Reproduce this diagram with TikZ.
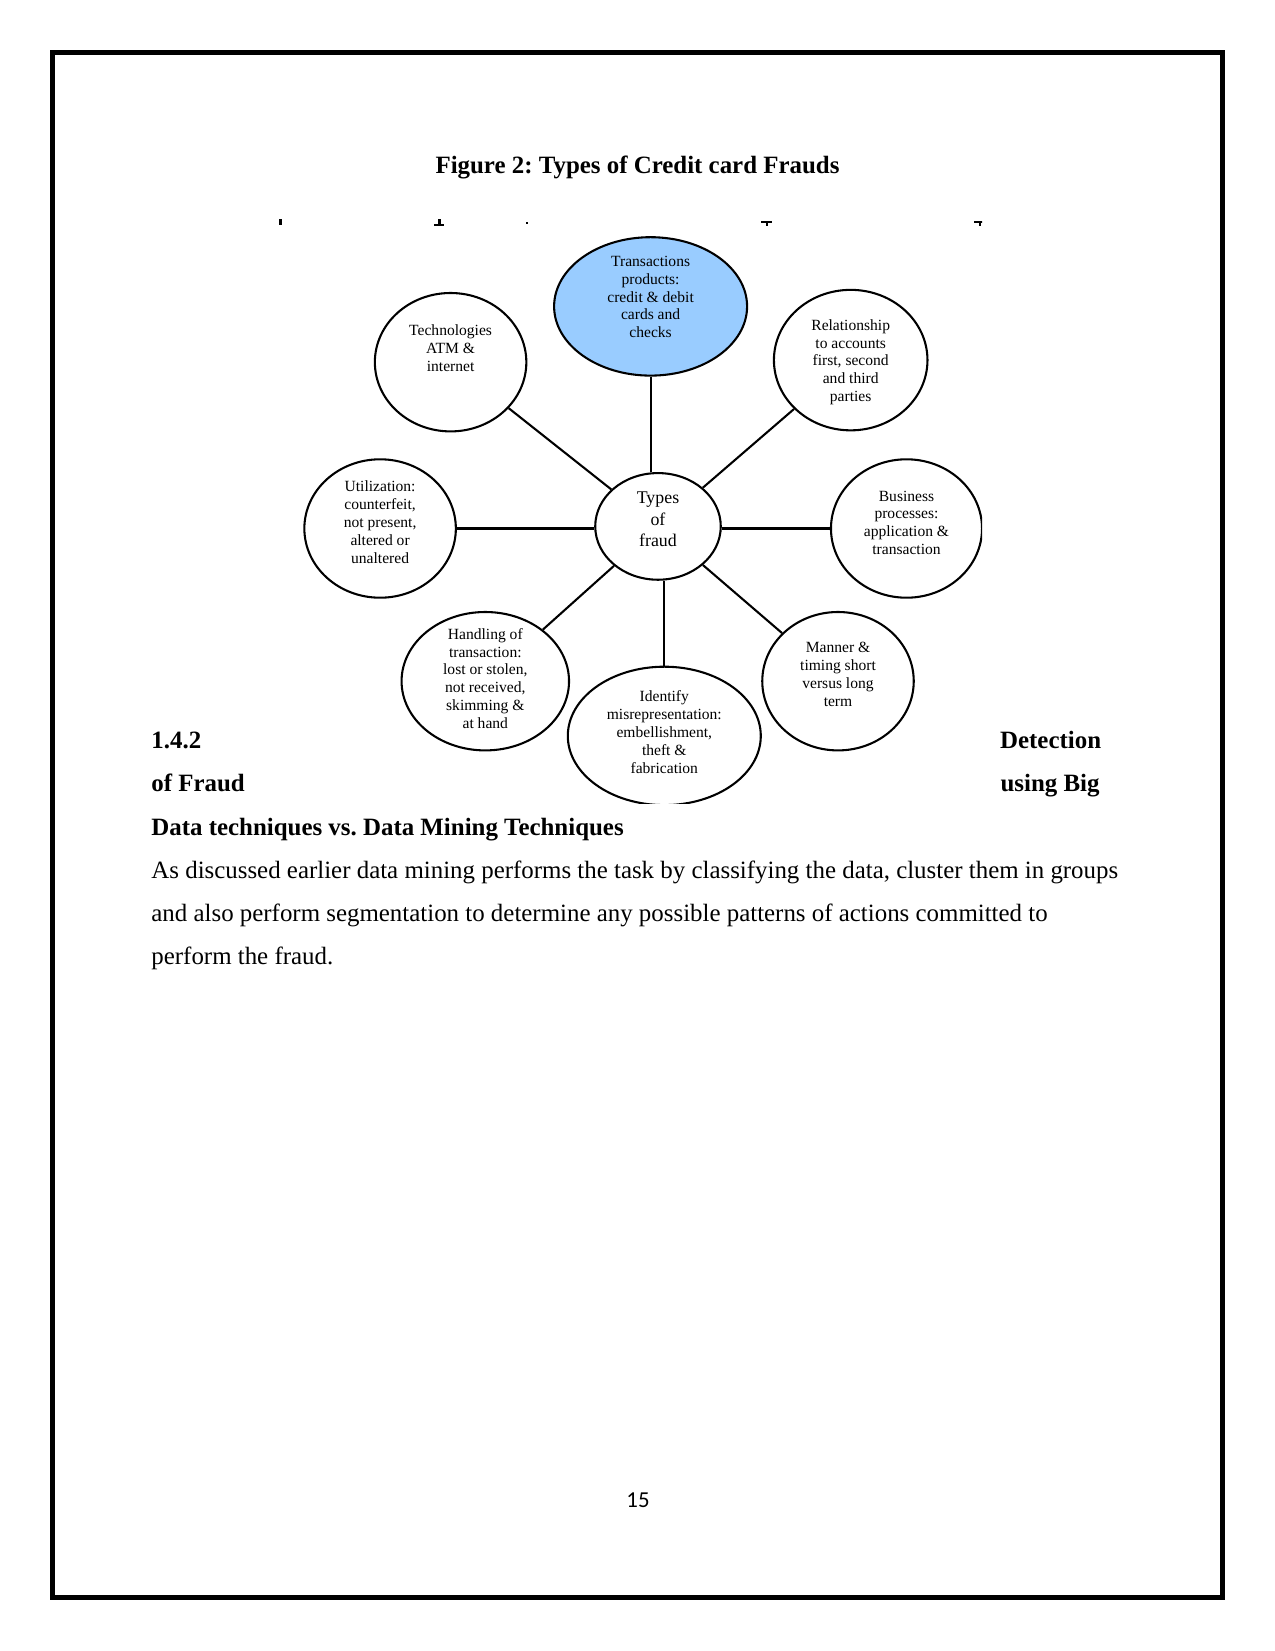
\documentclass[tikz,border=0pt]{standalone}
\usepackage{fontspec}
\setmainfont{Liberation Serif}
\newfontfamily\pagenumfont{Carlito}
\frenchspacing
\usetikzlibrary{shapes.geometric}
\definecolor{bubbleblue}{RGB}{153,204,255}
\tikzset{
  bubble/.style={draw, ellipse, line width=1pt, inner sep=0pt, minimum height=66.7pt},
  bubtext/.style={align=center, inner sep=0pt, font=\fontsize{7.5}{8.6}\selectfont},
  link/.style={line width=1pt},
  para/.style={anchor=base west, inner sep=0pt, font=\fontsize{12}{14}\selectfont},
  head/.style={para, font=\fontsize{12}{14}\selectfont\bfseries},
}

\begin{document}
\begin{tikzpicture}[x=0.016933cm, y=-0.016933cm]
\useasboundingbox (0,0) rectangle (1275,1651);
\draw[line width=2.4pt] (52.5,52.5) rectangle (1222.5,1597);

% caption
\node[head, anchor=base] (cap) at (637.5,173.5) {Figure 2: Types of Credit card Frauds};

% the pasted figure
\begin{scope}
\clip (270,214) rectangle (982,803);
% bits of a cut-off line
\fill (279,219) rectangle (281.5,225);
\fill (438,219) rectangle (440.5,225); \fill (434,224) rectangle (444,226);
\fill (526,222) rectangle (528,224);
\fill (761,221) rectangle (772,223); \fill (765.5,221) rectangle (767.5,226);
\fill (974,221) rectangle (985,223); \fill (979,221) rectangle (981,226);

\node[bubble, fill=bubbleblue, minimum width=93pt] (trans) at (650.6,306.4) {};
\node[bubble, minimum width=73pt] (tech) at (450.6,362.2) {};
\node[bubble, minimum width=74pt, minimum height=67.7pt] (rel) at (850.7,360.1) {};
\node[bubble, minimum width=73pt] (util) at (380.1,528.5) {};
\node[bubble, minimum width=60.5pt, minimum height=51.4pt] (types) at (658,526.4) {};
\node[bubble, minimum width=72.8pt] (bus) at (906.5,528.5) {};
\node[bubble, minimum width=80.7pt] (hand) at (485.3,681.2) {};
\node[bubble, minimum width=93pt] (ident) at (664.3,735.9) {};
\node[bubble, minimum width=73pt] (manner) at (838,681.2) {};

\node[bubtext] (transtxt) at (650.6,297) {Transactions\\products:\\credit \& debit\\cards and\\checks};
\node[bubtext] (techtxt) at (450.6,348.5) {Technologies\\ATM \&\\internet};
\node[bubtext] (reltxt) at (850.7,362.2) {Relationship\\to accounts\\first, second\\and third\\parties};
\node[bubtext] (utiltxt) at (380.1,522.2) {Utilization:\\counterfeit,\\not present,\\altered or\\unaltered};
\node[bubtext, font=\fontsize{8.6}{10.4}\selectfont] (typestxt) at (658,519.6) {Types\\of\\fraud};
\node[bubtext] (bustxt) at (906.5,522.7) {Business\\processes:\\application \&\\transaction};
\node[bubtext] (handtxt) at (485.3,678.5) {Handling of\\transaction:\\lost or stolen,\\not received,\\skimming \&\\at hand};
\node[bubtext] (identtxt) at (664.3,732.2) {Identify\\misrepresentation:\\embellishment,\\theft \&\\fabrication};
\node[bubtext] (mannertxt) at (838,674.3) {Manner \&\\timing short\\versus long\\term};

\draw[link] (trans.south) -- (trans.south |- types.north);
\draw[link] (tech) -- (types);
\draw[link] (rel) -- (types);
\draw[link] (util.east) -- (util.east -| types.west);
\draw[link] (bus.west) -- (bus.west -| types.east);
\draw[link] (hand) -- (types);
\draw[link] (manner) -- (types);
\draw[link] (ident.north) -- (ident.north |- types.south);
\end{scope}

% text of the page
\node[head] (sec) at (151,748) {1.4.2};
\node[head, anchor=base east] (sec2) at (1101.5,748) {Detection};
\node[head] (sec3) at (151,791.5) {of Fraud};
\node[head, anchor=base east] (sec4) at (1100,791.5) {using Big};
\node[head] (sec5) at (151,835) {Data techniques vs. Data Mining Techniques};
\node[para] (line1) at (151,878) {As discussed earlier data mining performs the task by classifying the data, cluster them in groups};
\node[para] (line2) at (151,921.5) {and also perform segmentation to determine any possible patterns of actions committed to};
\node[para] (line3) at (151,964.5) {perform the fraud.};

\node[anchor=base, inner sep=0pt, font=\pagenumfont\fontsize{11}{13}\selectfont] (pgnum) at (638,1507.5) {15};
\end{tikzpicture}
\end{document}
